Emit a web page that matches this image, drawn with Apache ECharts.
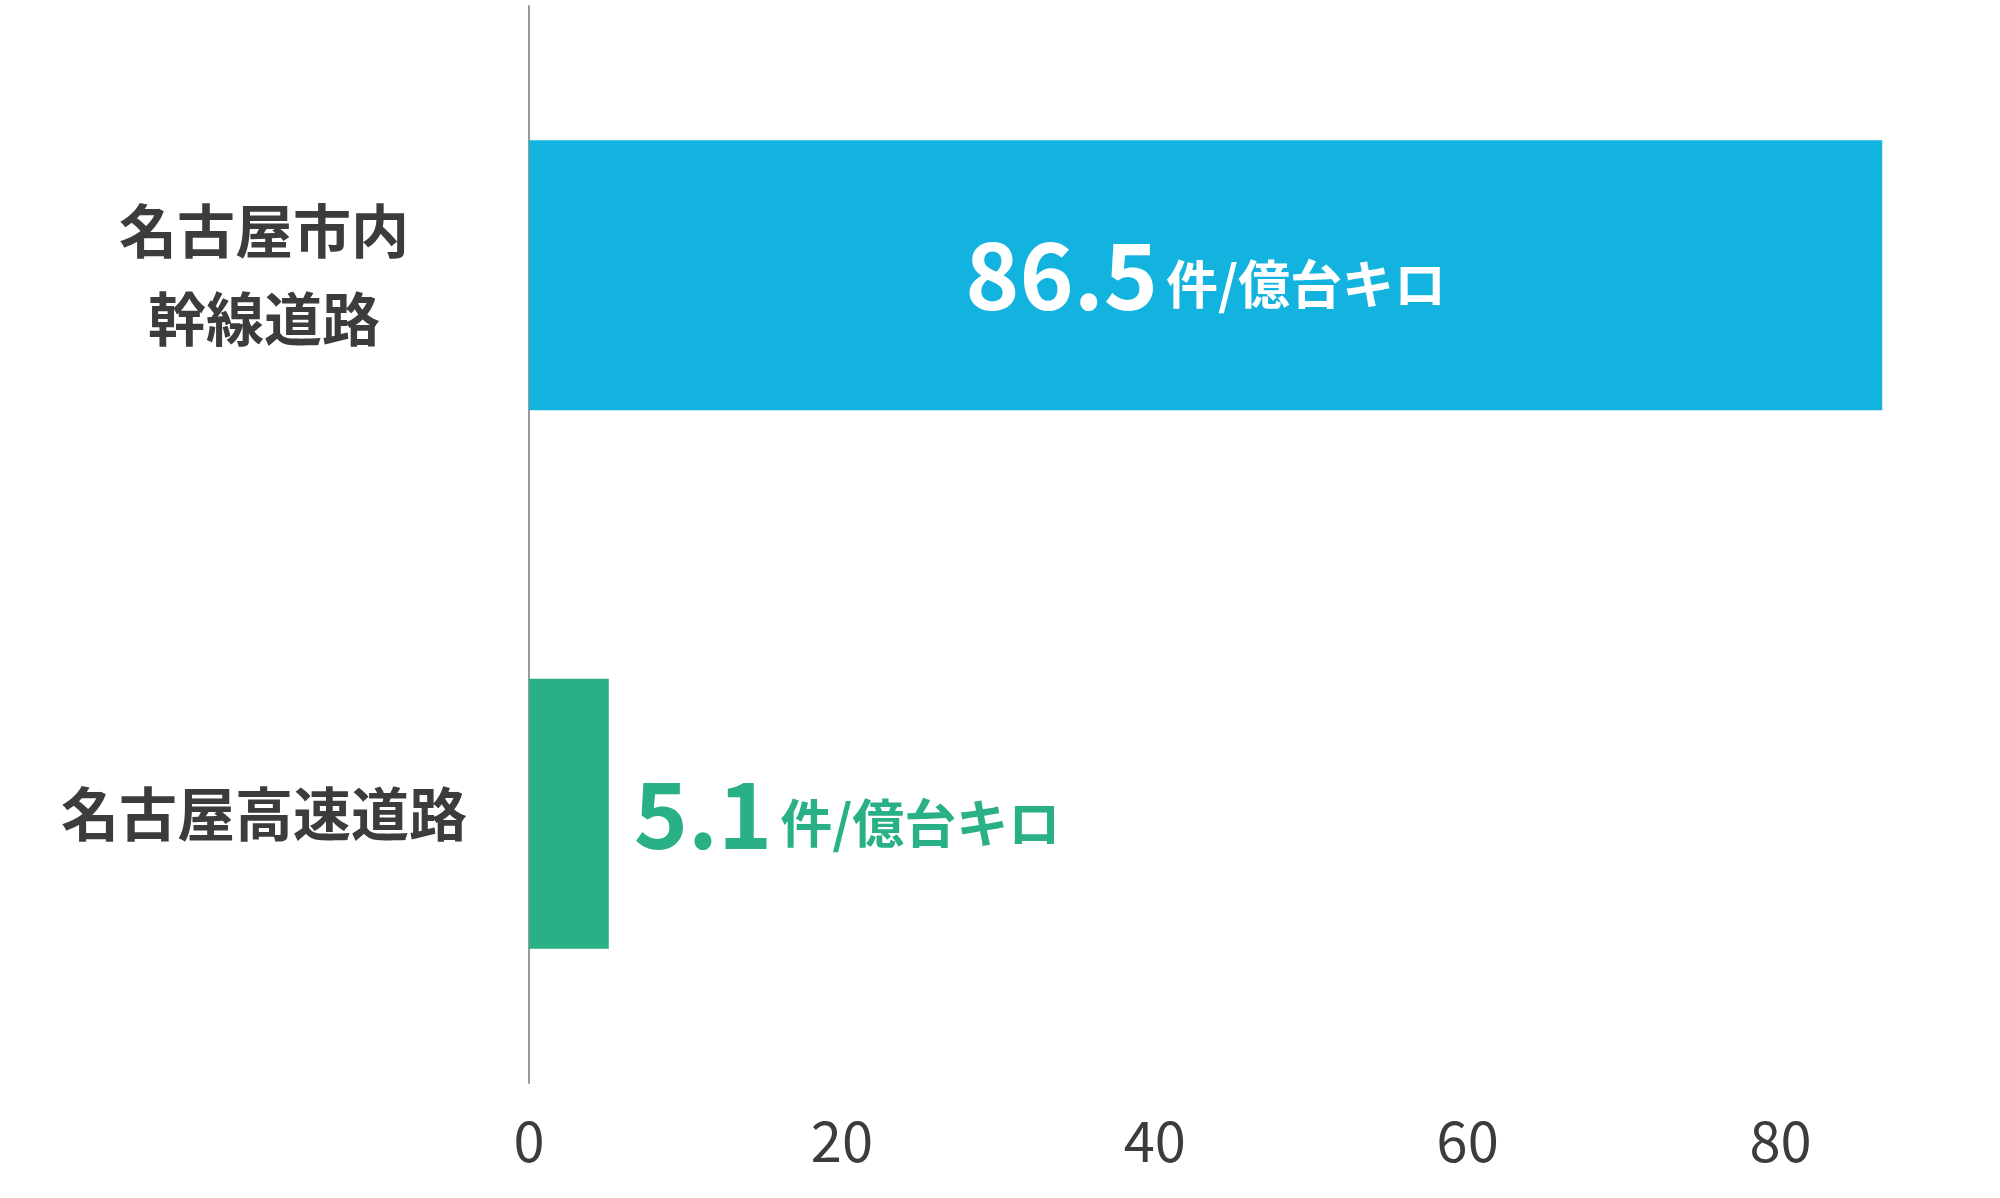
<!DOCTYPE html>
<html><head><meta charset="utf-8">
<script src="https://cdn.jsdelivr.net/npm/echarts@6/dist/echarts.min.js"></script>
<style>html,body{margin:0;padding:0;background:#fff}#c{width:2000px;height:1198px}</style>
</head><body><div id="c"></div>
<script>
const categories = ['名古屋市内\n幹線道路', '名古屋高速道路'];
const values = [86.5, 5.1];
const barColors = ['#13b3e0', '#2ab086'];
const unit = '件/億台キロ';
const font = '"Noto Sans CJK JP", "Noto Sans", sans-serif';
const chart = echarts.init(document.getElementById('c'));
chart.setOption({
  animation: false,
  grid: { left: 529, right: 63, top: 6, bottom: 115 },
  xAxis: {
    type: 'value', min: 0, max: 90, interval: 20,
    splitLine: { show: false }, axisLine: { show: false }, axisTick: { show: false },
    axisLabel: { showMaxLabel: false, color: '#3c3c3c', fontSize: 56, fontFamily: font, margin: 30 }
  },
  yAxis: {
    type: 'category', inverse: true, data: categories,
    axisLine: { show: true, lineStyle: { color: '#999', width: 2 } },
    axisTick: { show: false },
    axisLabel: { color: '#3c3c3c', fontSize: 58, fontWeight: 'bold', fontFamily: font, lineHeight: 88, align: 'center', margin: 265 }
  },
  series: [{
    type: 'bar', barWidth: 270,
    data: values.map((v, i) => ({
      value: v,
      itemStyle: { color: barColors[i] },
      label: {
        show: true,
        position: i === 0 ? 'inside' : 'right',
        distance: 25,
        formatter: '{n|' + v + '}{u|' + unit + '}',
        rich: {
          n: { fontSize: 92, fontWeight: 'bold', fontFamily: font, color: i === 0 ? '#fff' : barColors[i], padding: [0, 8, 0, 0] },
          u: { fontSize: 52, fontWeight: 'bold', fontFamily: font, color: i === 0 ? '#fff' : barColors[i], padding: [18, 0, 0, 0] }
        }
      }
    }))
  }]
});
</script></body></html>
